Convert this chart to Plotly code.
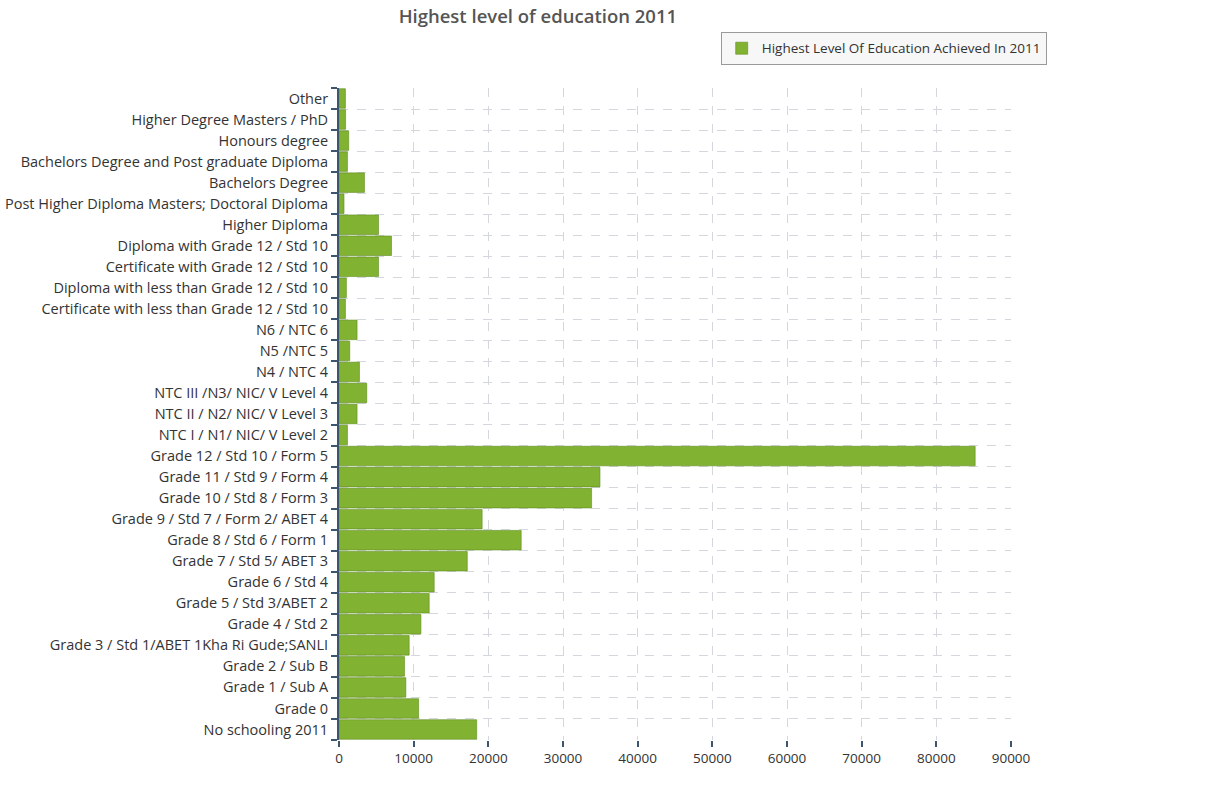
import plotly.graph_objects as go

categories = [
    "No schooling 2011",
    "Grade 0",
    "Grade 1 / Sub A",
    "Grade 2 / Sub B",
    "Grade 3 / Std 1/ABET 1Kha Ri Gude;SANLI",
    "Grade 4 / Std 2",
    "Grade 5 / Std 3/ABET 2",
    "Grade 6 / Std 4",
    "Grade 7 / Std 5/ ABET 3",
    "Grade 8 / Std 6 / Form 1",
    "Grade 9 / Std 7 / Form 2/ ABET 4",
    "Grade 10 / Std 8 / Form 3",
    "Grade 11 / Std 9 / Form 4",
    "Grade 12 / Std 10 / Form 5",
    "NTC I / N1/ NIC/ V Level 2",
    "NTC II / N2/ NIC/ V Level 3",
    "NTC III /N3/ NIC/ V Level 4",
    "N4 / NTC 4",
    "N5 /NTC 5",
    "N6 / NTC 6",
    "Certificate with less than Grade 12 / Std 10",
    "Diploma with less than Grade 12 / Std 10",
    "Certificate with Grade 12 / Std 10",
    "Diploma with Grade 12 / Std 10",
    "Higher Diploma",
    "Post Higher Diploma Masters; Doctoral Diploma",
    "Bachelors Degree",
    "Bachelors Degree and Post graduate Diploma",
    "Honours degree",
    "Higher Degree Masters / PhD",
    "Other",
]

values = [
    18440, 10660, 8950, 8780, 9400, 10970, 12080, 12750, 17180, 24400,
    19170, 33830, 34950, 85200, 1130, 2420, 3720, 2740, 1440, 2420,
    860, 990, 5290, 7030, 5290, 670, 3410, 1130, 1300, 880, 860,
]

x_ticks = [0, 10000, 20000, 30000, 40000, 50000, 60000, 70000, 80000, 90000]

series_name = "Highest Level Of Education Achieved In 2011"
title_text = "Highest level of education 2011"

fig = go.Figure()
fig.add_trace(go.Bar(
    x=values,
    y=categories,
    orientation="h",
    name=series_name,
    showlegend=True,
    marker=dict(color="#82b232", line=dict(color="#5e8c1e", width=0.6)),
))

fig.update_layout(
    width=1228,
    height=792,
    margin=dict(l=339, r=217, t=88, b=52),
    paper_bgcolor="white",
    plot_bgcolor="white",
    font=dict(family="Open Sans, DejaVu Sans, sans-serif", size=14, color="#333333"),
    title=dict(
        text=title_text,
        x=0.438, xanchor="center",
        y=1 - 17 / 792, yanchor="middle",
        font=dict(size=18.5, color="#555555", weight=600),
    ),
    bargap=0.07,
    legend=dict(
        x=0.568, xanchor="left",
        y=1.086, yanchor="top",
        bgcolor="#f7f7f7",
        bordercolor="#9a9a9a",
        borderwidth=1,
        font=dict(size=13.5, color="#333333"),
    ),
    xaxis=dict(
        automargin=False,
        range=[0, 90000],
        tickvals=x_ticks,
        ticktext=[str(v) for v in x_ticks],
        showgrid=True,
        gridcolor="#d4d8de",
        griddash="dash",
        gridwidth=1,
        zeroline=False,
        showline=False,
        ticks="outside",
        ticklen=6,
        tickwidth=2,
        tickcolor="#3d5670",
        tickfont=dict(size=13.5, color="#333333"),
    ),
    yaxis=dict(
        automargin=False,
        type="category",
        categoryorder="array",
        categoryarray=categories,
        range=[-0.5, len(categories) - 0.5],
        tickson="boundaries",
        ticks="outside",
        ticklen=6,
        tickwidth=2,
        tickcolor="#3d5670",
        ticklabelstandoff=6,
        showline=True,
        linecolor="#3d5670",
        linewidth=2,
        showgrid=True,
        gridcolor="#d4d8de",
        griddash="dash",
        gridwidth=1,
        tickfont=dict(size=14.5, color="#333333"),
    ),
)

fig.write_html("out.html")
